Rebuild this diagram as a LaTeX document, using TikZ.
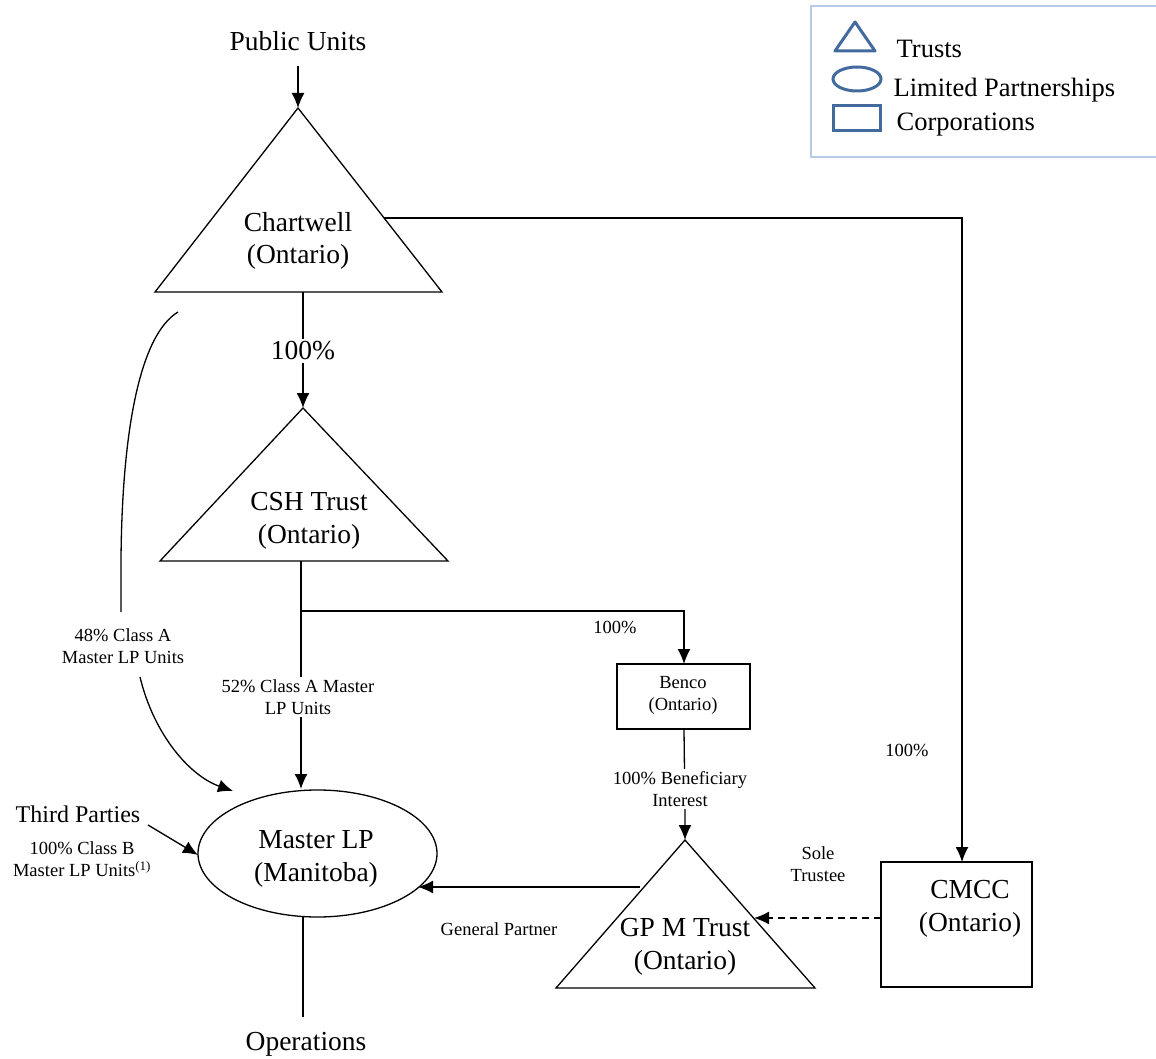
\documentclass[tikz,border=0pt]{standalone}
\usepackage{fontspec}
\setmainfont{Liberation Serif}
\usetikzlibrary{arrows.meta,shapes.geometric}
\definecolor{legblue}{RGB}{66,106,156}
\definecolor{legborder}{RGB}{184,202,232}
\begin{document}
\begin{tikzpicture}[x=1pt,y=-1pt,
  line width=1.3pt,
  arr/.style={-{Latex[length=15pt,width=13pt]}},
  bigtxt/.style={font=\fontsize{27.5}{32.5}\selectfont,align=center,inner sep=0pt},
  midtxt/.style={font=\fontsize{24}{28}\selectfont,align=center,inner sep=0pt},
  smalltxt/.style={font=\fontsize{18.5}{22}\selectfont,align=center,inner sep=0pt},
  legtxt/.style={font=\fontsize{26.5}{30}\selectfont,anchor=west,inner sep=0pt},
  lbl/.style={smalltxt,fill=white,inner sep=2pt},
  legshape/.style={draw=legblue,line width=3pt}]
\useasboundingbox (0,0) rectangle (1156,1059);

% legend
\draw[legborder,line width=1.5pt] (1158,6) -- (811,6) -- (811,157) -- (1158,157);
\draw[legshape,line join=round] (855,22) -- (875,51) -- (835,51) -- cycle;
\draw[legshape] (857,79) ellipse [x radius=24, y radius=12];
\draw[legshape] (833,106) rectangle (880,131);
\node[legtxt] (lt1) at (896,49) {Trusts};
\node[legtxt] (lt2) at (893,90) {Limited Partnerships};
\node[legtxt] (lt3) at (896,125) {Corporations};

% Chartwell triangle
\coordinate (chA) at (298,108);
\coordinate (chL) at (155,292);
\coordinate (chR) at (442,292);
\draw (chA) -- (chR) -- (chL) -- cycle;
\node[bigtxt] (chT) at (298,241) {Chartwell\\(Ontario)};

% Public units
\node[bigtxt] (pub) at (298,41) {Public Units};
\coordinate (pubS) at (298,66);
\draw[arr] (pubS) -- (chA);

% CSH triangle
\coordinate (csA) at (303,408);
\coordinate (csL) at (160,561);
\coordinate (csR) at (448,561);
\draw (csA) -- (csR) -- (csL) -- cycle;
\node[bigtxt] (csT) at (309,521) {CSH Trust\\(Ontario)};

% Chartwell -> CSH
\coordinate (chB) at (303,292);
\draw[arr] (chB) -- (csA);
\node[bigtxt,fill=white,inner sep=3pt] (p1) at (303,351) {100\%};

% Master LP
\node[ellipse,draw,minimum width=239pt,minimum height=127pt,inner sep=0pt] (mlp) at (317.5,853.5) {};
\node[bigtxt] (mlpT) at (316,859) {Master LP\\(Manitoba)};

% CSH -> Master LP
\coordinate (csB) at (301,561);
\coordinate (mlpTop) at (301,789);
\draw[arr] (csB) -- (mlpTop);
\node[lbl] (l52) at (298,697) {52\% Class A Master\\LP Units};

% Benco
\node[draw,minimum width=133pt,minimum height=65pt,inner sep=0pt] (benco) at (683.5,696.5) {};
\node[smalltxt] (bencoT) at (683,695) {Benco\\(Ontario)};
\coordinate (br) at (301,611);
\coordinate (bencoTop) at (684,664);
\draw[arr] (br) -- (684,611) -- (bencoTop);
\node[smalltxt] (l100b) at (615,627) {100\%};

% GP M Trust
\coordinate (gpA) at (685,840);
\coordinate (gpL) at (556,988);
\coordinate (gpR) at (815,988);
\draw (gpA) -- (gpR) -- (gpL) -- cycle;
\node[bigtxt] (gpT) at (685,947) {GP M Trust\\(Ontario)};
\coordinate (bencoBot) at (684,729);
\draw[arr] (bencoBot) -- (685,815) -- (gpA);
\node[lbl] (lben) at (680,789) {100\% Beneficiary\\Interest};

% CMCC
\node[draw,minimum width=151pt,minimum height=125pt,inner sep=0pt] (cmcc) at (956.5,924.5) {};
\node[bigtxt] (cmccT) at (970,909) {CMCC\\(Ontario)};

% Chartwell -> CMCC
\coordinate (chRt) at (384,218);
\coordinate (cmccTop) at (962,862);
\draw[arr] (chRt) -- (962,218) -- (cmccTop);
\node[smalltxt] (l100c) at (907,750) {100\%};

% CMCC -> GP (dashed)
\coordinate (cmccL) at (881,918);
\coordinate (gpRe) at (754,918);
\draw[arr,dash pattern=on 7pt off 5pt] (cmccL) -- (gpRe);
\node[smalltxt] (lsole) at (818,864) {Sole\\Trustee};

% GP -> Master LP
\coordinate (gpLe) at (640,887);
\coordinate (mlpR) at (418,887);
\draw[arr] (gpLe) -- (mlpR);
\node[smalltxt] (lgp) at (499,929) {General Partner};

% 48% curve
\coordinate (c48a) at (178,312);
\coordinate (c48b) at (121,612);
\coordinate (c48c) at (140,677);
\coordinate (c48d) at (233,791);
\draw (c48a) .. controls (140,335) and (122,430) .. (121,560) -- (c48b);
\draw[arr] (c48c) .. controls (154,735) and (190,776) .. (c48d);
\node[smalltxt] (l48) at (123,646) {48\% Class A\\Master LP Units};

% Third parties
\node[midtxt] (tp) at (78,814) {Third Parties};
\coordinate (tpS) at (148,825);
\coordinate (mlpL) at (198,855);
\draw[arr] (tpS) -- (mlpL);
\node[smalltxt] (ltp) at (82,859) {100\% Class B\\Master LP Units\textsuperscript{(1)}};

% Operations
\coordinate (mlpB) at (303,917);
\coordinate (opsT) at (303,1017);
\draw (mlpB) -- (opsT);
\node[bigtxt] (ops) at (306,1044) {Operations};
\end{tikzpicture}
\end{document}
